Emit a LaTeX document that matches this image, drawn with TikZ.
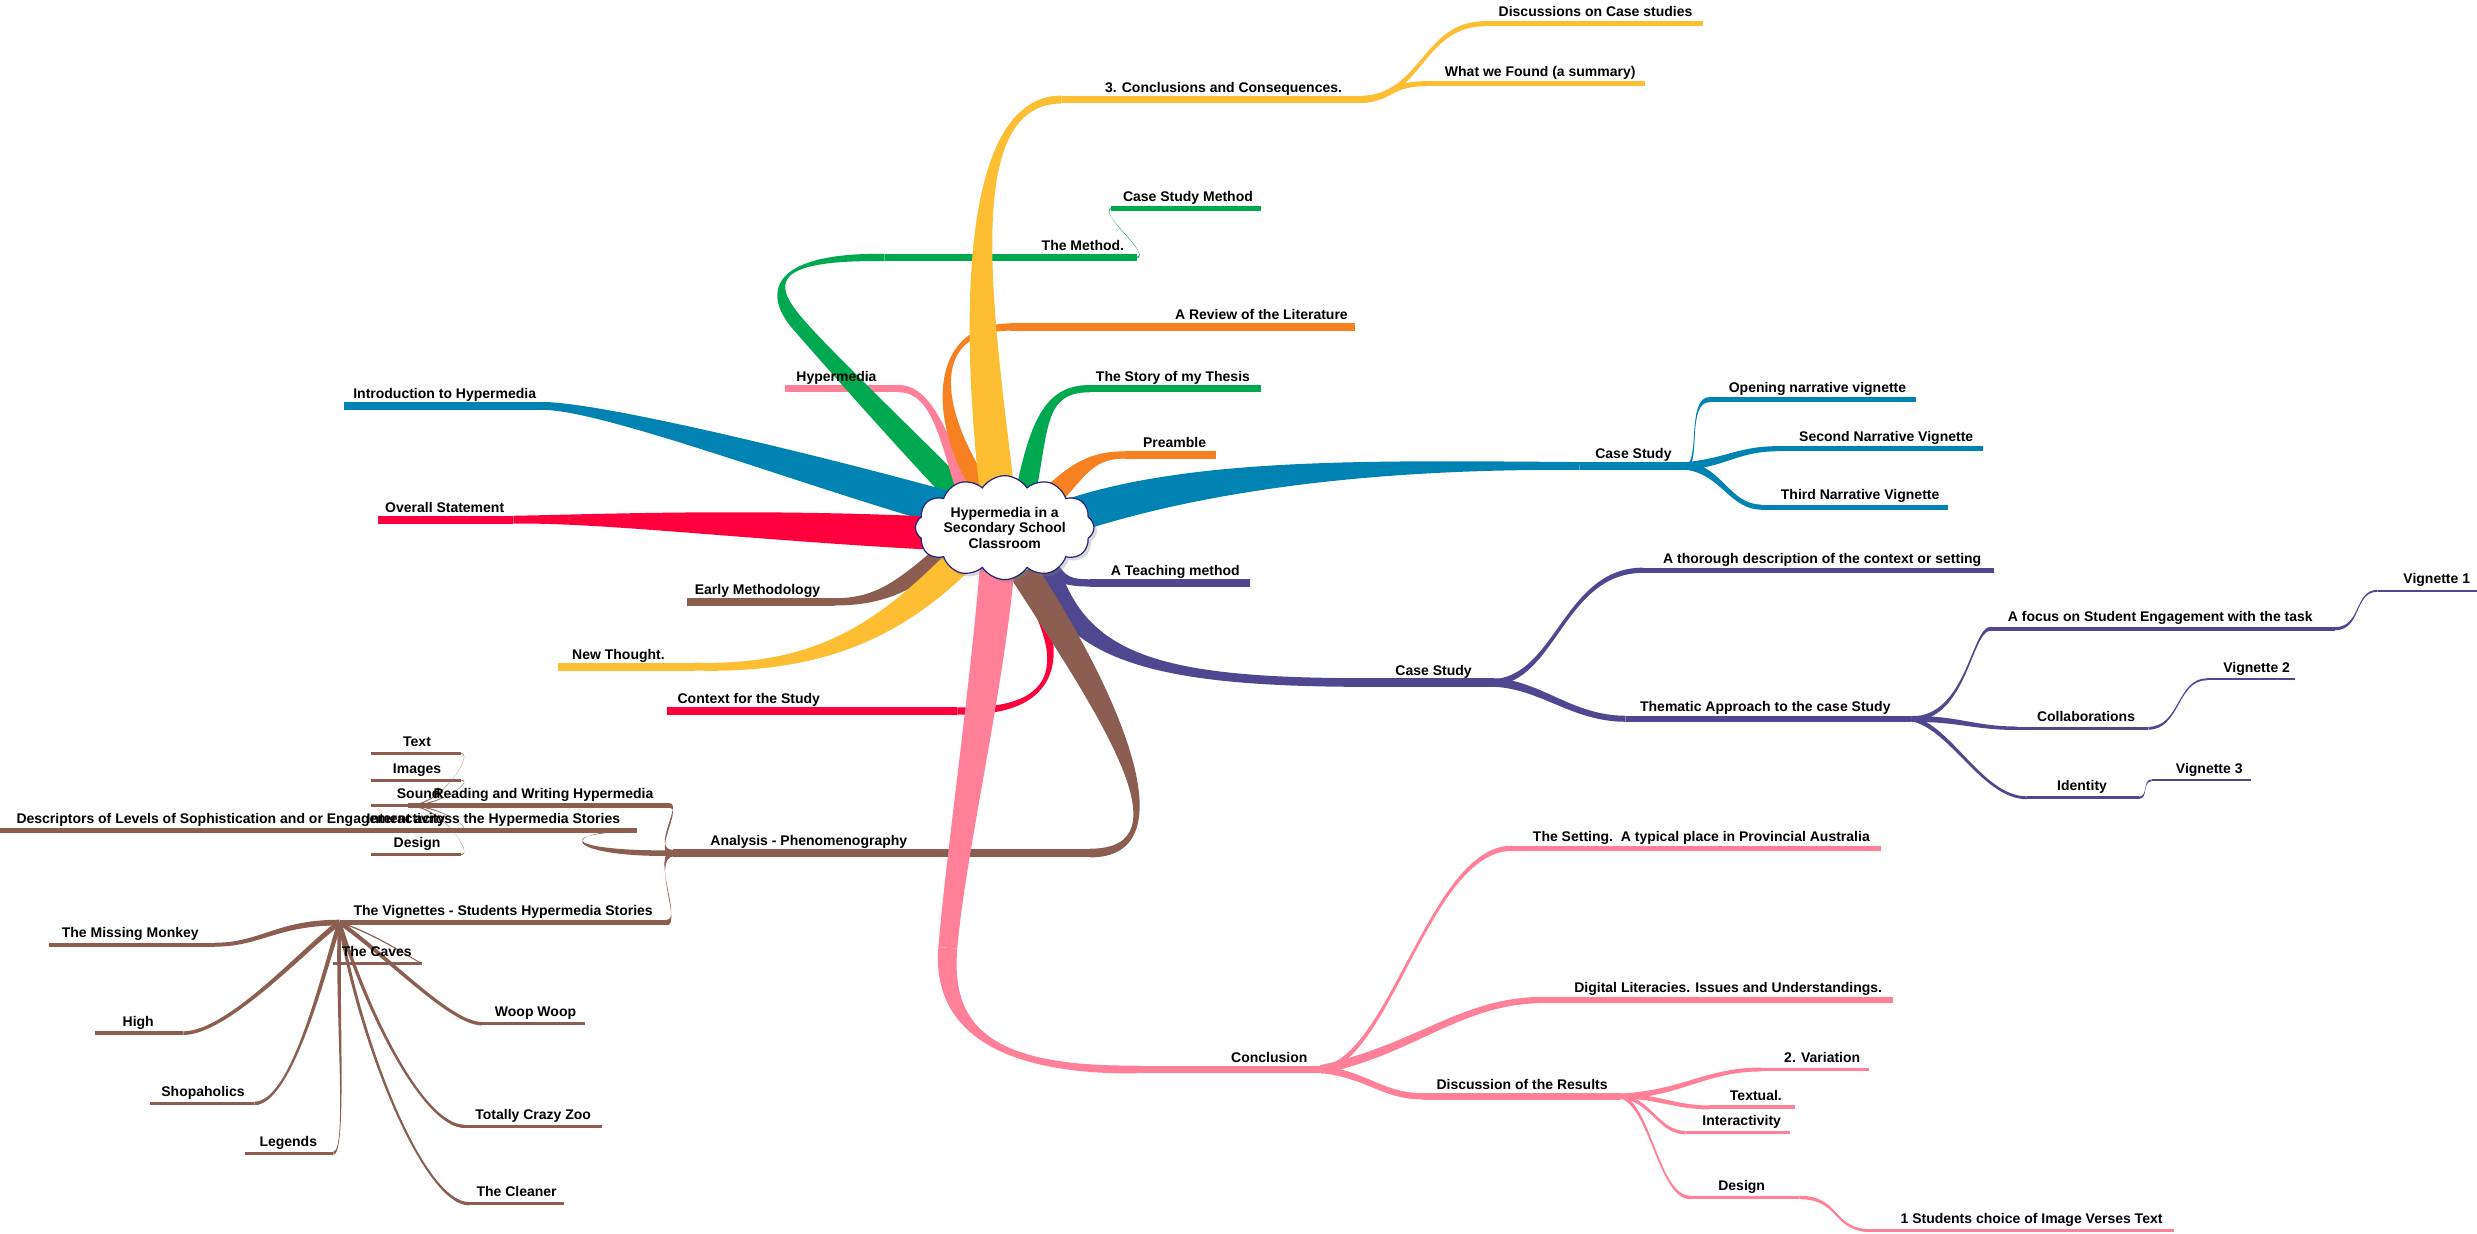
\documentclass[tikz,border=0pt]{standalone}
\usepackage{fontspec}
\setmainfont{Liberation Sans}
\usetikzlibrary{calc,shapes.symbols,shadows}
\definecolor{mblue}{RGB}{0,130,179}
\definecolor{mred}{RGB}{255,0,60}
\definecolor{mgreen}{RGB}{0,168,80}
\definecolor{mpink}{RGB}{255,128,152}
\definecolor{morange}{RGB}{247,128,32}
\definecolor{myellow}{RGB}{253,190,51}
\definecolor{mpurple}{RGB}{79,72,145}
\definecolor{mbrown}{RGB}{139,94,81}
\definecolor{mnavy}{RGB}{35,35,120}
\pgfdeclarelayer{bg}
\pgfsetlayers{bg,main}
% tapered branch: color, A, c1, c2, B, half width at A, half width at B
\newcommand\tb[7]{%
  \pgfmathsetlengthmacro\tbha{#6*0.79pt}%
  \pgfmathsetlengthmacro\tbhb{#7*0.79pt}%
  \path ($(#2)!\tbha!90:(#3)$) coordinate (tA1)
        ($(#2)!\tbha!-90:(#3)$) coordinate (tA2)
        ($(#5)!\tbhb!-90:(#4)$) coordinate (tB1)
        ($(#5)!\tbhb!90:(#4)$) coordinate (tB2);
  \begin{pgfonlayer}{bg}
  \fill[#1] (tA1) .. controls ($(#3)+(tA1)-(#2)$) and ($(#4)+(tB1)-(#5)$) .. (tB1)
     -- (tB2) .. controls ($(#4)+(tB2)-(#5)$) and ($(#3)+(tA2)-(#2)$) .. (tA2) -- cycle;
  \end{pgfonlayer}
}
% topic: name, color, line width, x1, x2, y of underline, text centre x, text
\newcommand\nd[8]{%
  \coordinate (#1-l) at (#4,#6);
  \coordinate (#1-r) at (#5,#6);
  \pgfmathsetlengthmacro\ndw{#3*0.79pt}%
  \begin{pgfonlayer}{bg}
  \draw[#2,line width=\ndw] (#1-l) -- (#1-r);
  \end{pgfonlayer}
  \node[lbl] (#1) at (#7,#6-4.5) {#8};
}
\begin{document}
\begin{tikzpicture}[x=0.79pt,y=-0.79pt,
  lbl/.style={font=\bfseries\fontsize{7}{8}\selectfont,inner sep=0pt,anchor=base,text=black}]
\useasboundingbox (0,0) rectangle (1568,781);

\node[cloud, cloud puffs=12, cloud puff arc=115, aspect=2.1, draw=mnavy, line width=0.6pt,
  fill=white, drop shadow={shadow xshift=1.5pt,shadow yshift=-1.5pt,opacity=0.3},
  inner sep=0pt, minimum width=87pt, minimum height=42pt, align=center,
  font=\bfseries\fontsize{7}{7.7}\selectfont] (c) at (636,334)
  {Hypermedia in a\\Secondary School\\Classroom};

% topics
\nd{concl3}{myellow}{5}{672}{860}{63}{774.5}{3. Conclusions and Consequences.}
\nd{disc}{myellow}{3.2}{940}{1078}{15}{1010}{Discussions on Case studies}
\nd{found}{myellow}{3.2}{902}{1041}{53}{975}{What we Found (a summary)}
\nd{method}{mgreen}{4.6}{560}{720}{163}{685.5}{The Method.}
\nd{csm}{mgreen}{3.2}{703}{798}{132}{752}{Case Study Method}
\nd{review}{morange}{4.6}{640}{858}{207}{798.5}{A Review of the Literature}
\nd{story}{mgreen}{4.6}{690}{798}{246}{742.5}{The Story of my Thesis}
\nd{preamble}{morange}{4.6}{712}{770}{288}{743.5}{Preamble}
\nd{csa}{mblue}{5}{1000}{1068}{295}{1034}{Case Study}
\nd{open}{mblue}{3.2}{1082}{1213}{253}{1150.5}{Opening narrative vignette}
\nd{second}{mblue}{3.2}{1127}{1255}{284}{1194}{Second Narrative Vignette}
\nd{third}{mblue}{3.2}{1115}{1233}{321}{1177.5}{Third Narrative Vignette}
\nd{teach}{mpurple}{4.6}{690}{791}{369}{744}{A Teaching method}
\nd{csb}{mpurple}{5.5}{880}{945}{432}{907.5}{Case Study}
\nd{thor}{mpurple}{3.3}{1040}{1262}{361}{1153.5}{A thorough description of the context or setting}
\nd{them}{mpurple}{3.8}{1029}{1210}{455}{1117.5}{Thematic Approach to the case Study}
\nd{focus}{mpurple}{2.5}{1260}{1478}{398}{1367.5}{A focus on Student Engagement with the task}
\nd{va}{mpurple}{1.2}{1505}{1568}{374}{1542.5}{Vignette 1}
\nd{collab}{mpurple}{2.2}{1277}{1360}{461}{1320.5}{Collaborations}
\nd{vb}{mpurple}{1.2}{1397}{1453}{430}{1428.5}{Vignette 2}
\nd{ident}{mpurple}{1.8}{1283}{1354}{505}{1318}{Identity}
\nd{vc}{mpurple}{1.2}{1362}{1425}{494}{1398.5}{Vignette 3}
\nd{concl}{mpink}{5}{720}{836}{677}{803.5}{Conclusion}
\nd{setting}{mpink}{3.3}{957}{1191}{537}{1077}{The Setting.\ \ A typical place in Provincial Australia}
\nd{digital}{mpink}{4}{977}{1198}{633}{1094}{Digital Literacies. Issues and Understandings.}
\nd{discres}{mpink}{4}{901}{1026}{694}{963.5}{Discussion of the Results}
\nd{var}{mpink}{2.5}{1115}{1183}{677}{1153.5}{2. Variation}
\nd{textual}{mpink}{2.5}{1082}{1136}{701}{1111.5}{Textual.}
\nd{inter}{mpink}{2.2}{1067}{1133}{717}{1102.5}{Interactivity}
\nd{dsgb}{mpink}{2.2}{1070}{1139}{758}{1102.5}{Design}
\nd{choice}{mpink}{1.8}{1184}{1376}{779}{1286}{1 Students choice of Image Verses Text}
\nd{intro}{mblue}{5}{218}{345}{257}{281.5}{Introduction to Hypermedia}
\nd{overall}{mred}{5}{239}{325}{329}{281.5}{Overall Statement}
\nd{hyper}{mpink}{4.6}{497}{569}{246}{529.5}{Hypermedia}
\nd{early}{mbrown}{4.6}{435}{528}{381}{479.5}{Early Methodology}
\nd{newt}{myellow}{5}{353}{440}{422}{391.5}{New Thought.}
\nd{context}{mred}{4.6}{422}{606}{450}{474}{Context for the Study}
\nd{analysis}{mbrown}{5.5}{426}{690}{540}{512}{Analysis - Phenomenography}
\nd{rw}{mbrown}{3}{258}{424}{510}{344}{Reading and Writing Hypermedia}
\nd{txt}{mbrown}{2.1}{235}{292}{477}{264}{Text}
\nd{img}{mbrown}{2.1}{235}{292}{494}{264}{Images}
\nd{snd}{mbrown}{2.1}{235}{292}{510}{265}{Sound}
\nd{intr}{mbrown}{2.1}{235}{292}{525.5}{257}{Interactivity}
\nd{dsga}{mbrown}{2.1}{235}{292}{541}{264}{Design}
\nd{desc}{mbrown}{3}{0}{403}{525.5}{201.5}{Descriptors of Levels of Sophistication and or Engagement across the Hypermedia Stories}
\nd{vign}{mbrown}{3.5}{215}{422}{584}{318.5}{The Vignettes - Students Hypermedia Stories}
\nd{monkey}{mbrown}{2.5}{31}{136}{598}{82.5}{The Missing Monkey}
\nd{high}{mbrown}{2.3}{60}{116}{654}{87.5}{High}
\nd{shop}{mbrown}{2.2}{95}{161}{698.5}{128.5}{Shopaholics}
\nd{legends}{mbrown}{2}{155}{211}{730}{182.5}{Legends}
\nd{caves}{mbrown}{2}{211}{267}{610}{238.5}{The Caves}
\nd{woop}{mbrown}{2.2}{305}{370}{648}{339}{Woop Woop}
\nd{zoo}{mbrown}{2.1}{294}{381}{713}{337.5}{Totally Crazy Zoo}
\nd{cleaner}{mbrown}{2.1}{297}{357}{762}{327}{The Cleaner}

% start points of main branches (inside the cloud)
\coordinate (s-gr1) at (612,318);
\coordinate (gm) at (505,205);
\coordinate (s-pk1) at (612,318);
\coordinate (s-or1) at (625,315);
\coordinate (s-ye1) at (632,318);
\coordinate (s-gr2) at (648,318);
\coordinate (s-or2) at (660,320);
\coordinate (s-bl2) at (680,326);
\coordinate (s-pu1) at (660,352);
\coordinate (s-pu2) at (662,358);
\coordinate (s-bl1) at (600,322);
\coordinate (s-rd1) at (600,338);
\coordinate (s-br1) at (598,350);
\coordinate (s-ye2) at (612,350);
\coordinate (s-rd2) at (645,362);
\coordinate (s-br2) at (648,362);
\coordinate (s-pk2) at (632,350);
\coordinate (pk) at (600,600);

% main branches
\tb{mgreen}{s-gr1}{580,285}{525,228}{gm}{8}{4.5}
\tb{mgreen}{gm}{487,184}{485,162}{method-l}{4.5}{2.3}
\tb{mpink}{s-pk1}{600,285}{592,246}{hyper-r}{4}{2.3}
\tb{morange}{s-or1}{592,268}{585,207}{review-l}{6}{2.3}
\tb{myellow}{s-ye1}{618,200}{608,63}{concl3-l}{11}{2.5}
\tb{mgreen}{s-gr2}{658,270}{660,246}{story-l}{6.5}{2.3}
\tb{morange}{s-or2}{682,298}{690,288}{preamble-l}{7}{2.3}
\tb{mblue}{s-bl2}{760,300}{870,294}{csa-l}{11}{2.5}
\tb{mpurple}{s-pu1}{670,365}{672,369}{teach-l}{5}{2.3}
\tb{mpurple}{s-pu2}{680,420}{740,433}{csb-l}{8}{2.75}
\tb{mblue}{s-bl1}{520,300}{385,258}{intro-r}{11}{2.5}
\tb{mred}{s-rd1}{480,332}{380,328}{overall-r}{10.5}{2.5}
\tb{mbrown}{s-br1}{572,372}{555,381}{early-r}{6}{2.3}
\tb{myellow}{s-ye2}{565,398}{520,424}{newt-r}{9}{2.5}
\tb{mred}{s-rd2}{672,405}{682,452}{context-r}{4}{2.3}
\tb{mbrown}{s-br2}{705,450}{752,540}{analysis-r}{9}{2.75}
\tb{mpink}{s-pk2}{626,430}{605,540}{pk}{11}{6}
\tb{mpink}{pk}{596,648}{625,678}{concl-l}{6}{2.5}

% sub branches right
\tb{myellow}{concl3-r}{900,63}{900,15}{disc-l}{2.2}{1.6}
\tb{myellow}{concl3-r}{880,63}{880,53}{found-l}{2.2}{1.6}
\tb{mgreen}{method-r}{728,160}{696,136}{csm-l}{0.45}{0.35}
\tb{mblue}{csa-r}{1076,292}{1068,253}{open-l}{1.0}{1.6}
\tb{mblue}{csa-r}{1095,292}{1100,284}{second-l}{2.5}{1.6}
\tb{mblue}{csa-r}{1090,298}{1095,321}{third-l}{2.5}{1.6}
\tb{mpurple}{csb-r}{985,430}{990,361}{thor-l}{2}{1.65}
\tb{mpurple}{csb-r}{975,433}{995,455}{them-l}{2.7}{1.9}
\tb{mpurple}{them-r}{1245,455}{1248,398}{focus-l}{1.5}{1.25}
\tb{mpurple}{focus-r}{1495,398}{1490,374}{va-l}{1}{0.6}
\tb{mpurple}{them-r}{1240,455}{1250,461}{collab-l}{1.9}{1.1}
\tb{mpurple}{collab-r}{1380,461}{1378,430}{vb-l}{0.9}{0.6}
\tb{mpurple}{them-r}{1235,460}{1255,505}{ident-l}{1.5}{0.9}
\tb{mpurple}{ident-r}{1360,505}{1356,494}{vc-l}{0.7}{0.6}
\tb{mpink}{concl-r}{880,672}{905,537}{setting-l}{1.8}{1.65}
\tb{mpink}{concl-r}{895,665}{925,633}{digital-l}{2.8}{2}
\tb{mpink}{concl-r}{865,680}{875,694}{discres-l}{2.2}{2}
\tb{mpink}{discres-r}{1065,692}{1080,677}{var-l}{1.8}{1.25}
\tb{mpink}{discres-r}{1050,694}{1060,701}{textual-l}{1.5}{1.25}
\tb{mpink}{discres-r}{1045,696}{1050,717}{inter-l}{1.2}{1.1}
\tb{mpink}{discres-r}{1045,700}{1050,758}{dsgb-l}{1.2}{1.1}
\tb{mpink}{dsgb-r}{1165,758}{1160,779}{choice-l}{1.1}{0.9}

% sub branches left
\tb{mbrown}{analysis-l}{412,540}{432,510}{rw-r}{2}{1.5}
\tb{mbrown}{analysis-l}{365,541}{345,528}{desc-r}{1.8}{0.4}
\tb{mbrown}{analysis-l}{412,542}{432,584}{vign-r}{2}{1.75}
\tb{mbrown}{rw-l}{280,510}{300,477}{txt-r}{0.4}{0.3}
\tb{mbrown}{rw-l}{280,510}{300,494}{img-r}{0.4}{0.3}
\tb{mbrown}{rw-l}{280,511}{300,510}{snd-r}{0.4}{0.3}
\tb{mbrown}{rw-l}{280,510}{300,525.5}{intr-r}{0.4}{0.3}
\tb{mbrown}{rw-l}{280,510}{300,541}{dsga-r}{0.4}{0.3}
\tb{mbrown}{vign-l}{175,584}{165,598}{monkey-r}{1.8}{1.25}
\tb{mbrown}{vign-l}{195,598}{145,654}{high-r}{1.6}{1.15}
\tb{mbrown}{vign-l}{205,615}{185,698.5}{shop-r}{1.4}{1.1}
\tb{mbrown}{vign-l}{213,640}{220,730}{legends-r}{1.2}{1}
\tb{mbrown}{vign-l}{235,590}{258,605}{caves-r}{0.4}{0.3}
\tb{mbrown}{vign-l}{245,605}{285,648}{woop-l}{1.3}{1.1}
\tb{mbrown}{vign-l}{232,640}{268,713}{zoo-l}{1.1}{1.05}
\tb{mbrown}{vign-l}{228,660}{268,762}{cleaner-l}{1}{1.05}
\end{tikzpicture}
\end{document}
